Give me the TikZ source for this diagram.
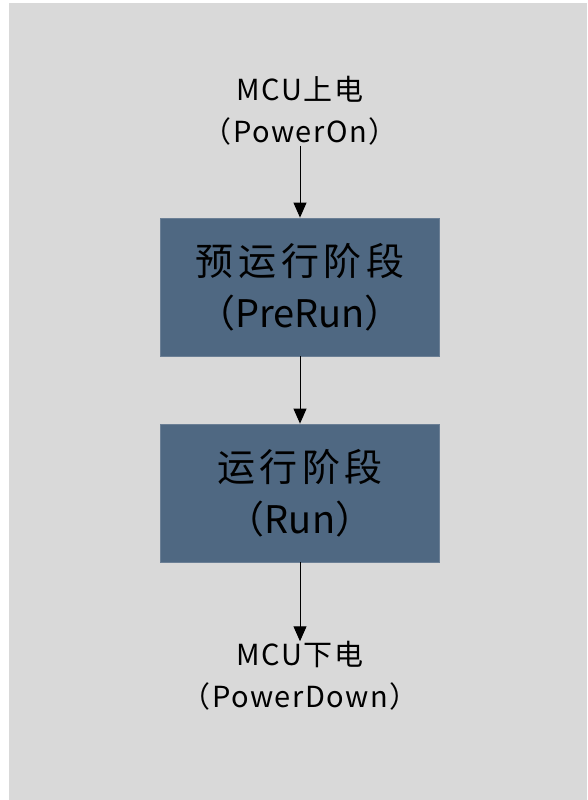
\documentclass[tikz,border=0pt]{standalone}
\usepackage{fontspec}
\setmainfont{Noto Sans CJK SC}
\usetikzlibrary{arrows.meta}
\definecolor{bggray}{HTML}{D9D9D9}
\definecolor{boxfill}{HTML}{4F6882}
\definecolor{boxedge}{HTML}{6B7F95}
\newcommand\widecjk[1]{{\addfontfeature{LetterSpace=12}#1}}
\tikzset{
  lbl/.style={inner sep=0pt, align=center, text=black, font=\fontsize{29}{42}\selectfont\addfontfeature{LetterSpace=5}},
  stage/.style={draw=boxedge, line width=0.8pt, fill=boxfill, minimum width=279pt, minimum height=138pt, inner sep=0pt, align=center, text=black, font=\fontsize{38}{52}\selectfont},
  flow/.style={-{Triangle[width=13pt,length=15pt]}, line width=1pt, black}
}
\begin{document}
\begin{tikzpicture}[x=1pt,y=-1pt]
\fill[white] (0,0) rectangle (587,800);
\fill[bggray] (9,3) rectangle (587,800);
\useasboundingbox (0,0) rectangle (587,800);
\node[lbl] (on) at (300,111) {MCU上电\\（PowerOn）};
\node[stage] (pre) at (300,287) {\widecjk{预运行阶段}\\（PreRun）};
\node[stage] (run) at (300,493) {\widecjk{运行阶段}\\（Run）};
\node[lbl] (down) at (300,676) {MCU下电\\（PowerDown）};
\draw[flow] (on.south) -- (pre.north);
\draw[flow] (pre.south) -- (run.north);
\draw[flow] (run.south) -- (down.north);
\end{tikzpicture}
\end{document}
